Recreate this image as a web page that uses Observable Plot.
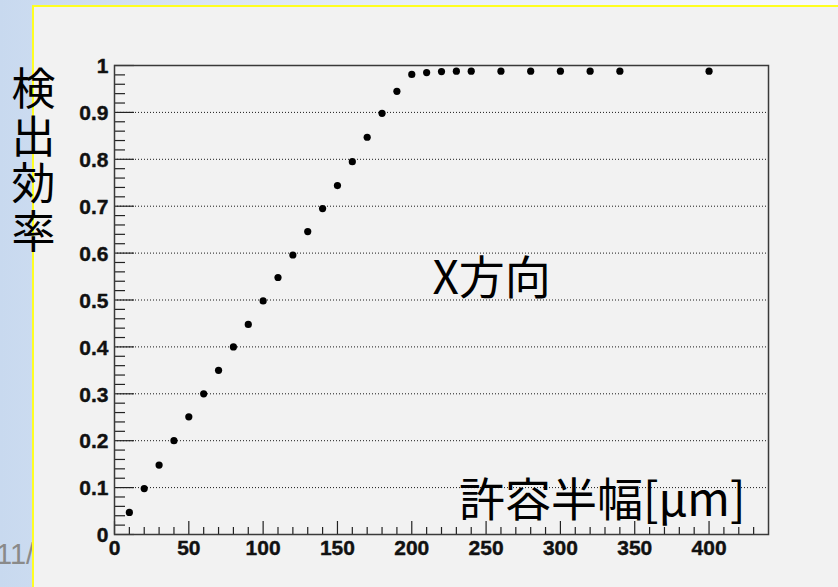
<!DOCTYPE html>
<html><head><meta charset="utf-8">
<script src="https://cdn.jsdelivr.net/npm/d3@7"></script>
<script src="https://cdn.jsdelivr.net/npm/@observablehq/plot@0.6"></script>
<style>
html,body{margin:0;padding:0;width:838px;height:587px;overflow:hidden;}
body{position:relative;background:linear-gradient(to right,#c8d9ef 0%,#dae5f5 25%,#e8eff9 50%,#f7f9fd 100%);font-family:"Liberation Sans",Arial,sans-serif;}
#slideno{position:absolute;left:-4px;top:540px;font-size:29px;line-height:1;color:#8a8a8a;}
#panel{position:absolute;left:32px;top:5px;right:0;bottom:0;background:#f2f2f2;border-left:2px solid #ffff22;border-top:2px solid #ffff22;}
#chart{position:absolute;left:0;top:0;}
</style></head><body>
<div id="slideno">11/</div>
<div id="panel"></div>
<div id="chart"></div>
<script>
// Data
const toleranceHalfWidth = [10,20,30,40,50,60,70,80,90,100,110,120,130,140,150,160,170,180,190,200,210,220,230,240,260,280,300,320,340,400];
const efficiency = [0.047,0.098,0.148,0.200,0.251,0.300,0.350,0.400,0.448,0.498,0.548,0.596,0.646,0.695,0.744,0.795,0.847,0.898,0.945,0.981,0.985,0.987,0.988,0.988,0.988,0.988,0.988,0.988,0.988,0.988];
const xTickLabels = [0,50,100,150,200,250,300,350,400];
const yTickLabels = [0,0.1,0.2,0.3,0.4,0.5,0.6,0.7,0.8,0.9,1];
const yGridValues = [0.1,0.2,0.3,0.4,0.5,0.6,0.7,0.8,0.9];
const xMinorTicks = [10,20,30,40,60,70,80,90,110,120,130,140,160,170,180,190,210,220,230,240,260,270,280,290,310,320,330,340,360,370,380,390,410,420,430];
const yMinorTicks = d3.range(0, 50).map(i => +(i * 0.02).toFixed(2)).filter(v => Math.round(v * 100) % 10 !== 0);
const yTitle = "検\n出\n効\n率";
const direction = "X方向";
const xTitle = "許容半幅[μm]";

const points = toleranceHalfWidth.map((x, i) => ({x, y: efficiency[i]}));
const W = 838, H = 587, mL = 114, mR = 70, mT = 65, mB = 53;
const fw = W - mL - mR, fh = H - mT - mB;
const cjk = "'Noto Sans CJK JP', 'Noto Sans CJK SC', sans-serif";
const latin = "'Liberation Sans', Arial, sans-serif";

const plot = Plot.plot({
  width: W, height: H,
  marginLeft: mL, marginRight: mR, marginTop: mT, marginBottom: mB,
  style: {background: "transparent", overflow: "visible", fontFamily: latin},
  x: {domain: [0, 440], axis: null},
  y: {domain: [0, 1], axis: null},
  marks: [
    Plot.gridY(yGridValues, {stroke: "#000", strokeOpacity: 0.9, strokeDasharray: "1,2", strokeWidth: 1}),
    Plot.ruleY(yMinorTicks, {stroke: "#222", strokeWidth: 1.2, insetRight: fw - 11}),
    Plot.ruleY(yTickLabels, {stroke: "#222", strokeWidth: 1.2, insetRight: fw - 20}),
    Plot.ruleX(xMinorTicks, {stroke: "#222", strokeWidth: 1.2, insetTop: fh - 7}),
    Plot.ruleX(xTickLabels, {stroke: "#222", strokeWidth: 1.2, insetTop: fh - 13}),
    Plot.text(yTickLabels, {y: d => d, text: d => String(d), frameAnchor: "left", textAnchor: "end", dx: -6, dy: 1, fontSize: 21, fontWeight: "bold", fontFamily: latin, fill: "#111", stroke: "#111", strokeWidth: 0.4}),
    Plot.text(xTickLabels, {x: d => d, text: d => String(d), frameAnchor: "bottom", textAnchor: "middle", lineAnchor: "top", dy: 6, fontSize: 21, fontWeight: "bold", fontFamily: latin, fill: "#111", stroke: "#111", strokeWidth: 0.4}),
    Plot.frame({stroke: "#3a3a3a", strokeWidth: 1.5}),
    Plot.dot(points, {x: "x", y: "y", r: 3.6, fill: "#000", stroke: "none"}),
    Plot.text([direction], {text: d => d, frameAnchor: "top-left", textAnchor: "start", lineAnchor: "bottom", dx: 318, dy: 228, fontSize: 46, fontFamily: cjk, fill: "#000"}),
    Plot.text([xTitle], {text: d => d, frameAnchor: "bottom-right", textAnchor: "end", lineAnchor: "bottom", dx: -23, dy: -19, fontSize: 46, fontFamily: cjk, fill: "#000"}),
    Plot.text([yTitle], {text: d => d, frameAnchor: "top-left", textAnchor: "middle", lineAnchor: "top", lineHeight: 1.09, dx: -81, dy: 5, fontSize: 44, fontFamily: cjk, fill: "#000"})
  ]
});
document.getElementById("chart").appendChild(plot);
</script>
</body></html>
